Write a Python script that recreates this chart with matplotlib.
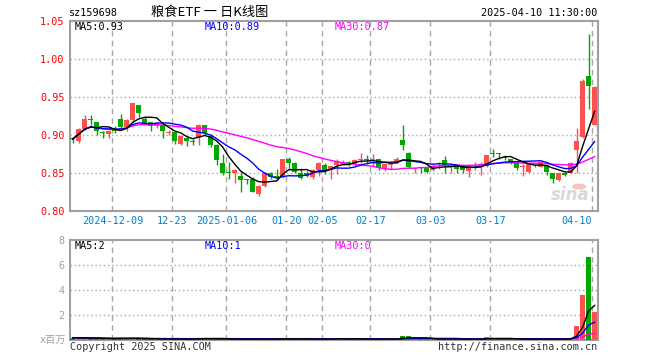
import numpy as np
import pandas as pd
import matplotlib
matplotlib.use("Agg")
import matplotlib.pyplot as plt
from matplotlib.patches import Circle

# daily K-line data, 2024-11-28 .. 2025-04-10 (88 trading days)
opens = [0.896, 0.892, 0.908, 0.921, 0.917, 0.904, 0.902, 0.907, 0.922, 0.911,
         0.920, 0.940, 0.921, 0.917, 0.912, 0.914, 0.903, 0.905, 0.888, 0.897,
         0.892, 0.896, 0.913, 0.899, 0.887, 0.864, 0.8515, 0.850, 0.847, 0.8415,
         0.842, 0.823, 0.833, 0.850, 0.8455, 0.845, 0.869, 0.864, 0.851, 0.851,
         0.845, 0.854, 0.8605, 0.854, 0.8605, 0.8627, 0.865, 0.8618, 0.8675, 0.8675,
         0.867, 0.8693, 0.857, 0.8605, 0.8649, 0.8943, 0.8768, 0.856, 0.8575, 0.8575,
         0.854, 0.8618, 0.868, 0.858, 0.8605, 0.859, 0.8535, 0.8594, 0.8596, 0.8596,
         0.8755, 0.8763, 0.871, 0.8684, 0.864, 0.8585, 0.8522, 0.8623, 0.8588, 0.861,
         0.850, 0.8412, 0.8509, 0.8509, 0.8807, 0.8974, 0.9781, 0.9136]
highs = [0.898, 0.910, 0.927, 0.927, 0.918, 0.906, 0.907, 0.912, 0.928, 0.921,
         0.943, 0.940, 0.925, 0.918, 0.918, 0.916, 0.907, 0.906, 0.900, 0.898,
         0.896, 0.915, 0.913, 0.902, 0.888, 0.876, 0.865, 0.856, 0.852, 0.843,
         0.845, 0.834, 0.852, 0.852, 0.856, 0.869, 0.872, 0.865, 0.857, 0.853,
         0.856, 0.865, 0.8636, 0.860, 0.869, 0.8671, 0.866, 0.869, 0.8768, 0.8737,
         0.875, 0.8693, 0.863, 0.862, 0.8715, 0.9132, 0.878, 0.857, 0.858, 0.858,
         0.8627, 0.865, 0.8724, 0.860, 0.861, 0.861, 0.8623, 0.8654, 0.8654, 0.8741,
         0.8816, 0.877, 0.874, 0.869, 0.865, 0.8623, 0.8623, 0.8628, 0.8667, 0.862,
         0.851, 0.8509, 0.852, 0.8654, 0.9092, 0.9737, 1.0333, 0.965]
lows = [0.890, 0.890, 0.907, 0.914, 0.900, 0.897, 0.897, 0.903, 0.909, 0.906,
        0.918, 0.924, 0.914, 0.906, 0.910, 0.896, 0.900, 0.888, 0.887, 0.886,
        0.887, 0.887, 0.900, 0.885, 0.8605, 0.848, 0.843, 0.837, 0.826, 0.836,
        0.825, 0.820, 0.832, 0.843, 0.841, 0.844, 0.856, 0.850, 0.843, 0.845,
        0.843, 0.847, 0.8487, 0.843, 0.8487, 0.861, 0.859, 0.859, 0.8627, 0.8618,
        0.860, 0.855, 0.853, 0.855, 0.863, 0.881, 0.857, 0.850, 0.851, 0.850,
        0.8527, 0.856, 0.850, 0.8505, 0.850, 0.850, 0.8447, 0.854, 0.848, 0.8588,
        0.8719, 0.8684, 0.8675, 0.862, 0.854, 0.8465, 0.851, 0.8579, 0.8579, 0.848,
        0.8377, 0.840, 0.847, 0.8505, 0.850, 0.896, 0.9342, 0.9136]
closes = [0.895, 0.908, 0.921, 0.920, 0.905, 0.903, 0.906, 0.906, 0.911, 0.920,
          0.942, 0.929, 0.916, 0.912, 0.916, 0.905, 0.904, 0.892, 0.899, 0.892,
          0.891, 0.914, 0.903, 0.887, 0.868, 0.851, 0.851, 0.854, 0.841, 0.841,
          0.826, 0.833, 0.851, 0.845, 0.845, 0.869, 0.863, 0.852, 0.844, 0.8465,
          0.854, 0.8636, 0.854, 0.859, 0.8658, 0.8649, 0.864, 0.867, 0.868, 0.867,
          0.868, 0.8575, 0.8627, 0.861, 0.8693, 0.8868, 0.8583, 0.8565, 0.857, 0.8513,
          0.8592, 0.864, 0.8605, 0.8583, 0.856, 0.855, 0.8596, 0.8596, 0.8623, 0.8741,
          0.8754, 0.876, 0.8706, 0.864, 0.8566, 0.8587, 0.8623, 0.862, 0.8654, 0.8522,
          0.843, 0.8509, 0.8478, 0.864, 0.893, 0.9715, 0.9654, 0.964]
# volume, millions
volumes = [0.20, 0.20, 0.18, 0.15, 0.15, 0.12, 0.12, 0.12, 0.22, 0.12,
           0.20, 0.12, 0.10, 0.10, 0.10, 0.10, 0.10, 0.10, 0.10, 0.10,
           0.10, 0.20, 0.20, 0.10, 0.10, 0.10, 0.10, 0.10, 0.10, 0.10,
           0.10, 0.10, 0.10, 0.10, 0.10, 0.20, 0.10, 0.10, 0.10, 0.10,
           0.10, 0.10, 0.10, 0.10, 0.20, 0.10, 0.10, 0.10, 0.10, 0.10,
           0.10, 0.10, 0.10, 0.10, 0.10, 0.35, 0.35, 0.10, 0.10, 0.10,
           0.10, 0.10, 0.10, 0.10, 0.10, 0.10, 0.10, 0.10, 0.10, 0.25,
           0.20, 0.10, 0.10, 0.10, 0.10, 0.10, 0.10, 0.10, 0.10, 0.10,
           0.10, 0.10, 0.10, 0.20, 1.15, 3.62, 6.69, 2.29]

tick_idx = [7, 17, 26, 36, 42, 50, 60, 70, 87]
tick_labels = ["2024-12-09", "12-23", "2025-01-06", "01-20", "02-05",
               "02-17", "03-03", "03-17", "04-10"]
price_ticks = [0.80, 0.85, 0.90, 0.95, 1.00, 1.05]
vol_ticks = [2, 4, 6, 8]

RED = "#ff5050"
GREEN = "#00a800"
GRID = "#a8a8a8"
FRAME = "#a0a0a0"
MONO = "DejaVu Sans Mono"

W, H = 660, 360
o = np.array(opens); h = np.array(highs); l = np.array(lows); c = np.array(closes)
v = np.array(volumes)
x = np.arange(len(c))
up = c >= o
cols = np.where(up, RED, GREEN)

cs = pd.Series(c)
ma5, ma10, ma30 = [cs.rolling(n, min_periods=1).mean() for n in (5, 10, 30)]
vs = pd.Series(v)
vma5, vma10, vma30 = [vs.rolling(n, min_periods=1).mean() for n in (5, 10, 30)]

fig = plt.figure(figsize=(W / 100, H / 100), dpi=100)
fig.patch.set_facecolor("white")

def box(l_, t_, r_, b_):
    return [l_ / W, 1 - b_ / H, (r_ - l_) / W, (b_ - t_) / H]

ax = fig.add_axes(box(70.3, 21.3, 597.6, 211.3))
axv = fig.add_axes(box(70.3, 240.3, 597.6, 340.3))
xlim = (-0.4, 87.5)
gx = [i - 0.38 for i in tick_idx]

for a in (ax, axv):
    a.set_xlim(*xlim)
    for s in a.spines.values():
        s.set_color(FRAME)
        s.set_linewidth(1.5)
    a.set_xticks([])
    for g in gx:
        a.axvline(g, color=GRID, lw=1, ls=(0, (4, 3)), zorder=0)

# price panel
ax.set_ylim(0.80, 1.05)
for yv in price_ticks[1:-1]:
    ax.axhline(yv, color=GRID, lw=1, ls=(0, (1, 2)), zorder=0)
ax.vlines(x, l, h, colors=cols, lw=1, zorder=2)
body = np.maximum(np.abs(c - o), 0.0013)
ax.bar(x, body, bottom=np.minimum(o, c), width=0.74, color=cols, lw=0, zorder=3)
ax.plot(x, ma30, color="#ff00ff", lw=1, zorder=4)
ax.plot(x, ma10, color="#0000ff", lw=1, zorder=4)
ax.plot(x, ma5, color="black", lw=1, zorder=4)
ax.set_yticks(price_ticks)
ax.set_yticklabels([f"{t:.2f}" for t in price_ticks], family=MONO, fontsize=7.3)
for t in ax.get_yticklabels():
    t.set_color("red")
ax.tick_params(axis="y", length=0, pad=4)

for i, lab in zip(tick_idx, tick_labels):
    ax.annotate(lab, xy=(i - 0.38, 0), xycoords=("data", "axes fraction"),
                xytext=(0, -10), textcoords="offset pixels",
                ha="right" if lab == "04-10" else "center", va="center",
                family=MONO, fontsize=7.3, color="#0080d0")

# watermark
ax.text(0.985, 0.04, "sina", transform=ax.transAxes, ha="right", va="bottom",
        fontsize=12, style="italic", weight="bold", color="#d8d8d8", zorder=1)
ax.add_patch(Circle((0.965, 0.13), 0.012, transform=ax.transAxes,
                    color="#f4c4c4", zorder=1))

# volume panel
axv.set_ylim(0, 8)
for yv in (2, 4, 6):
    axv.axhline(yv, color=GRID, lw=1, ls=(0, (1, 2)), zorder=0)
axv.bar(x, v, width=0.74, color=cols, lw=0, zorder=3)
axv.plot(x, vma30, color="#ff00ff", lw=1, zorder=4)
axv.plot(x, vma10, color="#0000ff", lw=1, zorder=4)
axv.plot(x, vma5, color="black", lw=1, zorder=4)
axv.set_yticks(vol_ticks)
axv.set_yticklabels([str(t) for t in vol_ticks], family=MONO, fontsize=7.3, color="#a0a0a0")
axv.tick_params(axis="y", length=0, pad=4)

def ftext(px, py, s, **kw):
    kw.setdefault("family", MONO)
    kw.setdefault("fontsize", 7.3)
    kw.setdefault("va", "center")
    fig.text(px / W, 1 - py / H, s, **kw)

# header
ftext(69, 12.7, "sz159698")
ftext(210, 12.5, "粮食ETF 一 日K线图", ha="center", family=["Noto Sans CJK SC"], fontsize=9.5)
ftext(597.6, 12.7, "2025-04-10 11:30:00", ha="right")

# MA legends
ftext(75, 26.5, f"MA5:{ma5.iloc[-1]:.2f}", color="black")
ftext(205, 26.5, f"MA10:{ma10.iloc[-1]:.2f}", color="#0000ff")
ftext(334.5, 26.5, f"MA30:{ma30.iloc[-1]:.2f}", color="#ff00ff")
ftext(75, 246, f"MA5:{int(vma5.iloc[-1])}", color="black")
ftext(205, 246, f"MA10:{int(vma10.iloc[-1])}", color="#0000ff")
ftext(334.5, 246, f"MA30:{int(vma30.iloc[-1])}", color="#ff00ff")

ftext(66, 340, "x百万", ha="right", color="#a0a0a0", family=[MONO, "Noto Sans CJK SC"])
ftext(69.5, 347, "Copyright 2025 SINA.COM", color="#333333")
ftext(597.6, 347, "http://finance.sina.com.cn", ha="right", color="#333333")

fig.savefig("out.png", dpi=100, facecolor="white")
